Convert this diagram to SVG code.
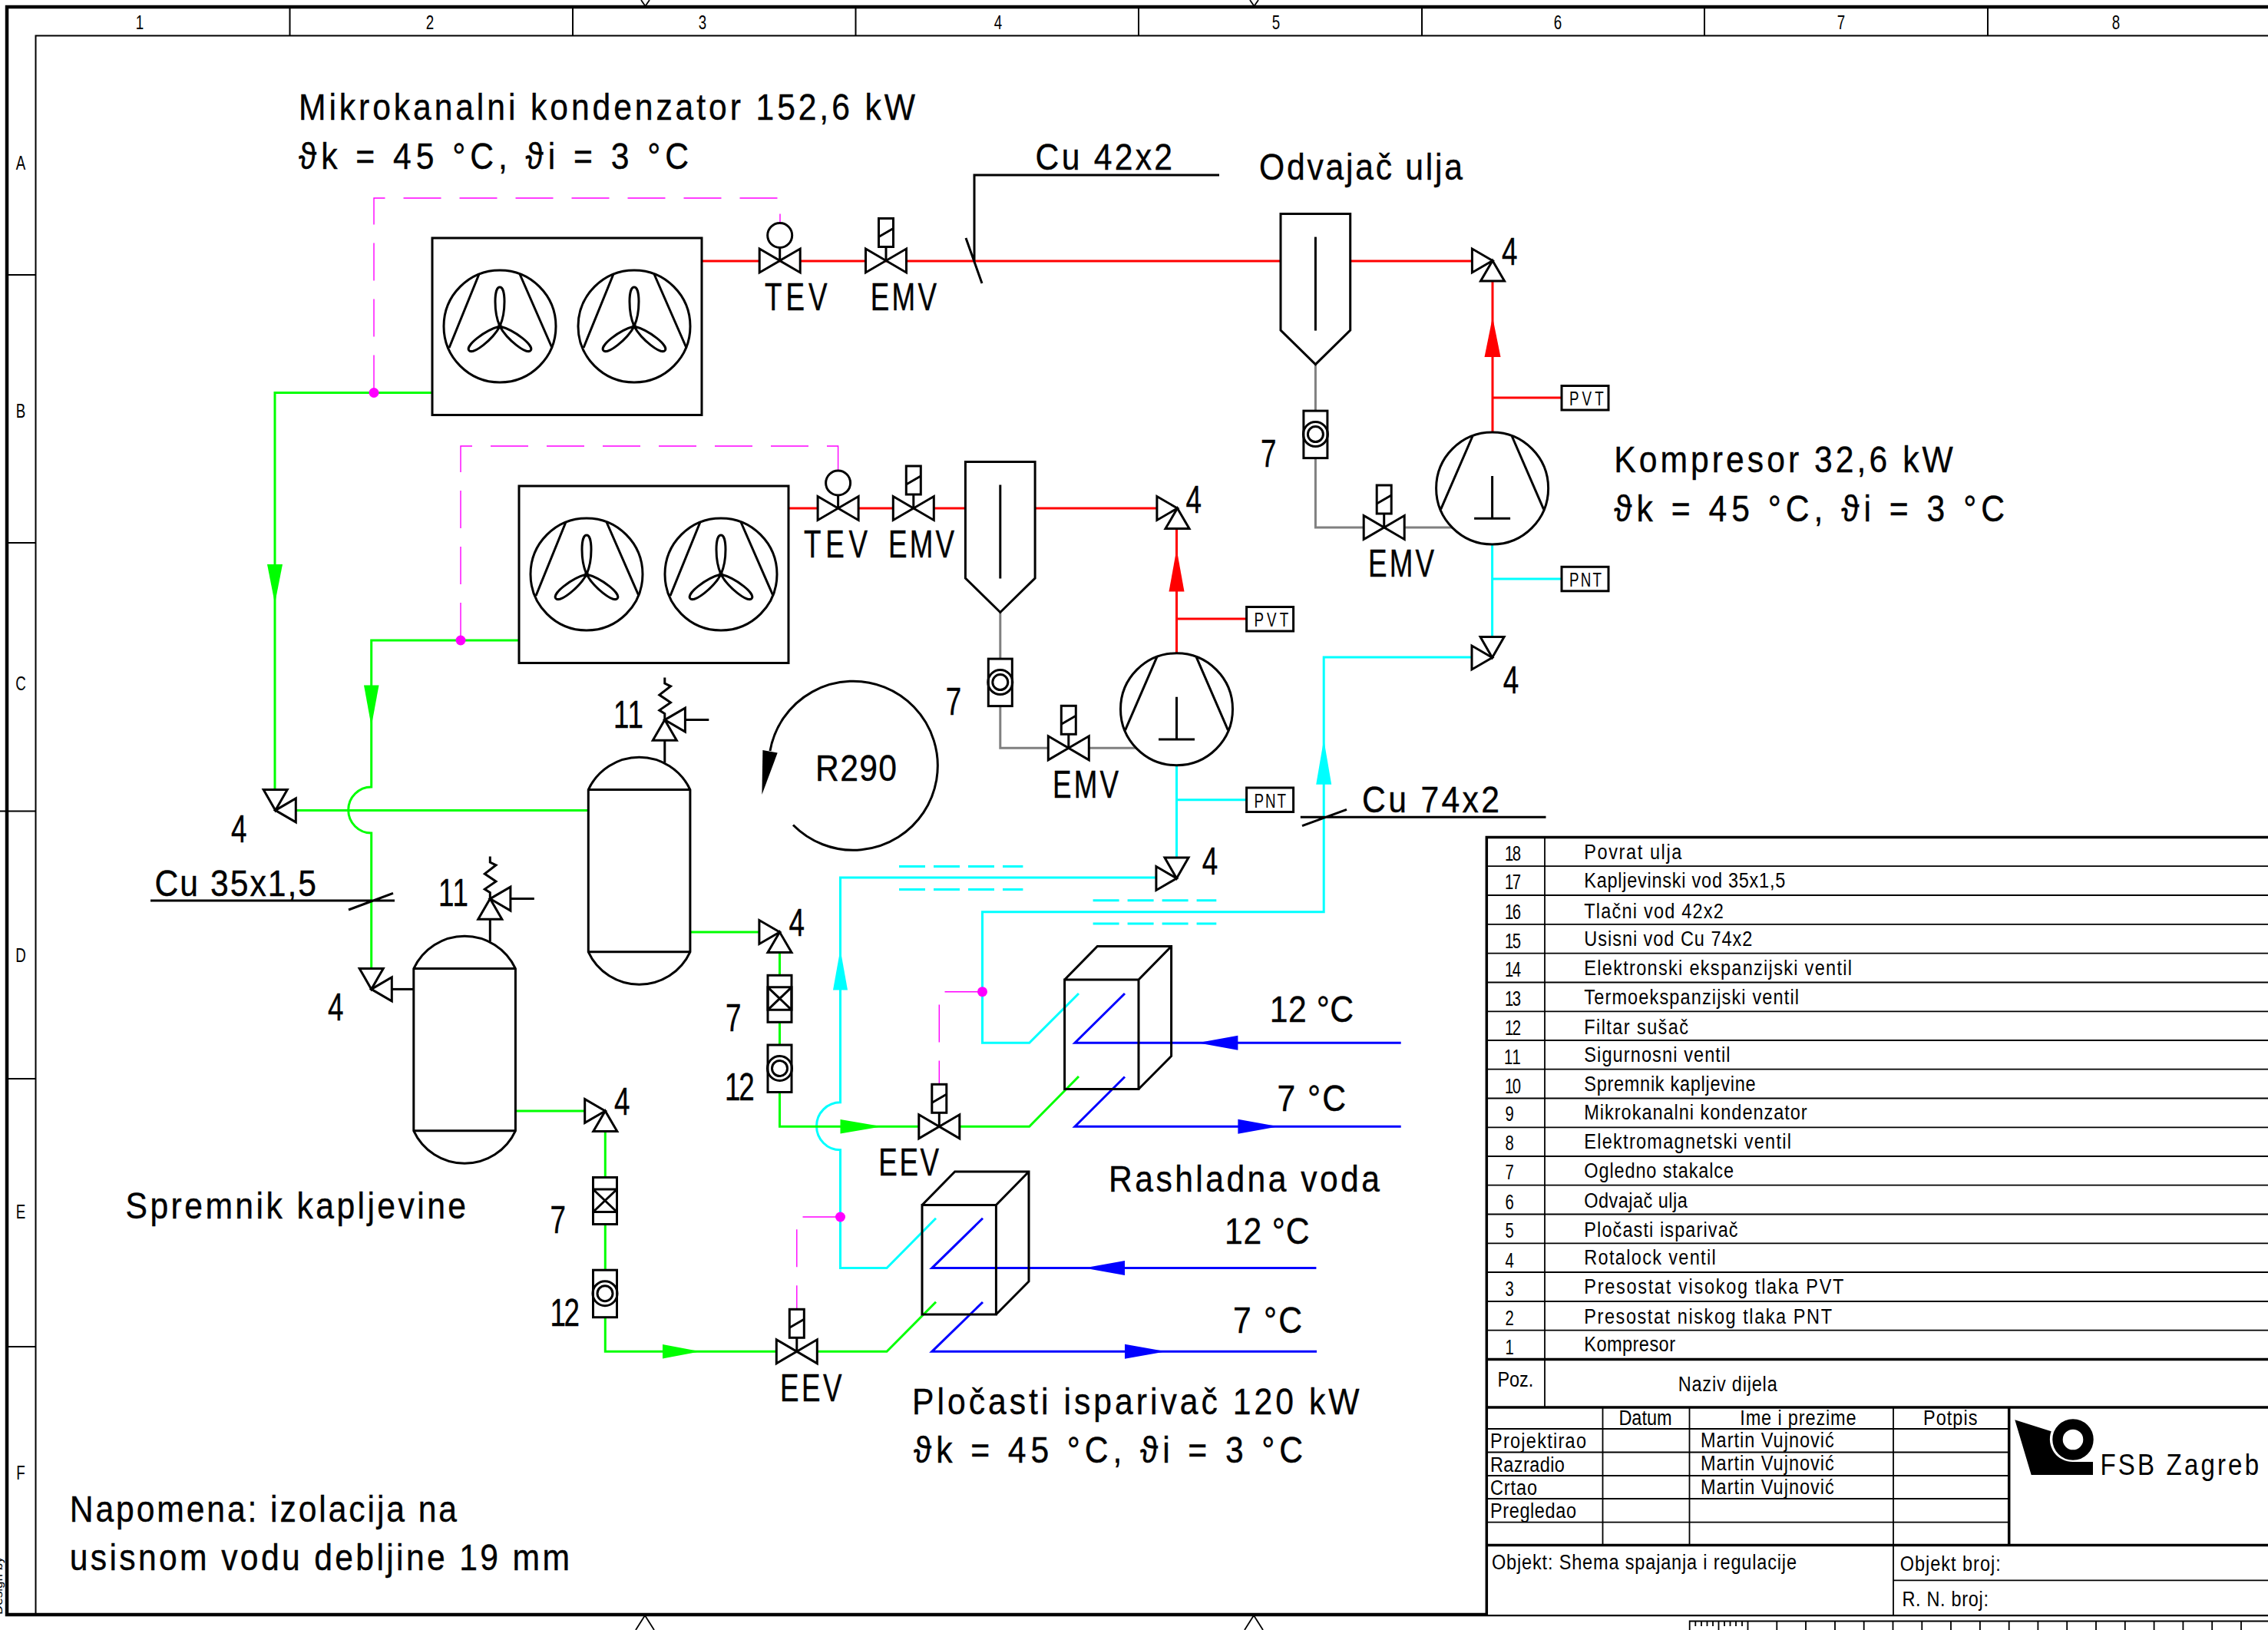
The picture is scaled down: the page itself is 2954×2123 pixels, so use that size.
<svg xmlns="http://www.w3.org/2000/svg" width="2954" height="2123" viewBox="0 0 2954 2123">
<style>
text{font-family:"Liberation Sans","DejaVu Sans",sans-serif;fill:#000}
text.b,text.m,text.p,text.l{transform-box:fill-box;transform-origin:0 50%;transform:scaleX(.87)}
text.n{transform:scaleX(.75)}
text.ctr{transform-origin:50% 50%;text-anchor:middle;transform:scaleX(.75)}
.b{font-size:49px;stroke:#000;stroke-width:.4}.m{font-size:27px}.p{font-size:25px}.l{font-size:38px}
.k{fill:none;stroke:#000;stroke-width:3;stroke-linejoin:miter}
.w{fill:#fff;stroke:#000;stroke-width:3}
.c{fill:none;stroke-width:3;stroke-linejoin:miter}
.red{stroke:#f00}.grn{stroke:#0f0}.cyn{stroke:#0ff}.blu{stroke:#00f}.gry{stroke:#808080}
.blk{stroke:#000}
.pnk{fill:none;stroke:#f0f;stroke-width:1.4;stroke-dasharray:49 24}
.dsh{stroke:#0ff;stroke-width:3;stroke-dasharray:34 11;fill:none}
.fr{fill:none;stroke:#000;stroke-width:2}
.fb{fill:none;stroke:#000;stroke-width:4.5}
.tl{fill:none;stroke:#000;stroke-width:1.8}
.tb{fill:none;stroke:#000;stroke-width:3.5}
.fR{fill:#f00}.fG{fill:#0f0}.fC{fill:#0ff}.fB{fill:#00f}.fM{fill:#f0f}
</style>
<defs>
<polygon id="bow" class="w" points="-26.5,-15.5 26.5,15.5 26.5,-15.5 -26.5,15.5"/>
<g id="emv"><use href="#bow"/><path class="k" d="M0,0V-18"/><rect class="w" x="-9.5" y="-55" width="19" height="37"/><path class="k" d="M-9.5,-31L9.5,-42"/></g>
<g id="tev"><use href="#bow"/><path class="k" d="M0,0V-17"/><circle class="w" cx="0" cy="-33" r="16"/></g>
<polygon id="triL" class="w" points="0,0 -26.6,-15.5 -26.6,15.5"/>
<polygon id="triR" class="w" points="0,0 26.6,-15.5 26.6,15.5"/>
<polygon id="triB" class="w" points="0,0 -15.5,26.6 15.5,26.6"/>
<polygon id="triT" class="w" points="0,0 -15.5,-27 15.5,-27"/>
<g id="rotU"><use href="#triL"/><use href="#triB"/></g>
<g id="rotD"><use href="#triL"/><use href="#triT"/></g>
<g id="rotR"><use href="#triR"/><use href="#triT"/></g>
<g id="cmp"><circle class="w" r="73"/><path class="k" d="M-25.6,-68L-67,27.4M25.6,-68L67,27.4M0,-16V39.3M-23.5,39.3H23.5"/></g>
<path id="leaf" class="k" d="M0,0C-8,-18 -8,-51 0,-51C8,-51 8,-18 0,0Z"/>
<g id="fan"><circle class="k" r="73"/><path class="k" d="M-27,-68L-66,28M26,-68L68,28"/><use href="#leaf"/><use href="#leaf" transform="rotate(128)"/><use href="#leaf" transform="rotate(-128)"/></g>
<g id="cond"><rect class="k" x="0" y="0" width="351" height="230.5"/><use href="#fan" x="88" y="115"/><use href="#fan" x="263" y="115"/></g>
<g id="sep"><path class="w" d="M0,0H90.7V151.5L45.4,196L0,151.5Z"/><path class="k" d="M45.4,30V152"/></g>
<g id="sg"><rect class="w" x="-15.5" y="-30.5" width="31" height="61.5"/><circle class="k" r="16"/><circle class="k" r="10"/></g>
<g id="flt"><rect class="w" x="-15.5" y="-30.5" width="31" height="61"/><path class="k" d="M-15.5,-15H15.5V14.5H-15.5ZM-15.5,-15L15.5,14.5M15.5,-15L-15.5,14.5"/></g>
<g id="tank"><path class="w" d="M0,0A73,73 0 0 1 132.6,0V211.2A73,73 0 0 1 0,211.2Z"/><path class="k" d="M0,0H132.6M0,211.2H132.6M99.5,-35V-64.3"/><use href="#triB" transform="translate(99.5,-91)"/><use href="#triR" transform="translate(99.5,-91)"/><path class="k" d="M126.1,-91H157M99.5,-91V-99L92.5,-103.5L107.2,-113.5L92.5,-123.5L107.2,-134.8L99.5,-138.5V-146"/></g>
<g id="evap"><path class="k" d="M0,0H96.4V142.5H0ZM0,0L42.7,-43.5H139V99.5L96.4,142.5M96.4,0L139,-43.5"/></g>
<rect id="box" class="w" x="0" y="0" width="61" height="31.5"/>
</defs>

<g id="frame">
<path class="fb" d="M2954,9H9V2103H2954"/>
<path class="fr" d="M2954,46.5H46.5V2103M377.5,9V46.5M746,9V46.5M1114.5,9V46.5M1483,9V46.5M1852,9V46.5M2220,9V46.5M2589,9V46.5M9,358H46.5M9,707H46.5M0,1056.5H46.5M9,1405H46.5M9,1754H46.5"/>
<path class="tl" d="M835,0L840.5,8L846,0M1628,0L1633.5,8L1639,0M828,2123L840,2104L852,2123M1621,2123L1633,2104L1645,2123"/>
<path class="tl" d="M2954,2111.5H2200.7V2123M2238.5,2111.5V2123M2276.5,2111.5V2123M2314.3,2111.5V2123M2352,2111.5V2123M2390,2111.5V2123M2427.7,2111.5V2123M2465.5,2111.5V2123M2503.3,2111.5V2123M2541,2111.5V2123M2578.9,2111.5V2123M2616.7,2111.5V2123M2654.4,2111.5V2123M2692.2,2111.5V2123M2730,2111.5V2123M2767.8,2111.5V2123M2805.6,2111.5V2123M2843.4,2111.5V2123M2881.2,2111.5V2123M2919,2111.5V2123M2208.3,2111.5V2118M2216,2111.5V2118M2223.5,2111.5V2118M2231,2111.5V2118M2246,2111.5V2118M2253.5,2111.5V2118M2261,2111.5V2118M2269,2111.5V2118"/>
<text x="182" y="38" class="p ctr">1</text><text x="560" y="38" class="p ctr">2</text><text x="915" y="38" class="p ctr">3</text><text x="1300" y="38" class="p ctr">4</text><text x="1662" y="38" class="p ctr">5</text><text x="2029" y="38" class="p ctr">6</text><text x="2398" y="38" class="p ctr">7</text><text x="2756" y="38" class="p ctr">8</text>
<text x="27" y="221" class="p ctr">A</text><text x="27" y="544" class="p ctr">B</text><text x="27" y="899" class="p ctr">C</text><text x="27" y="1253" class="p ctr">D</text><text x="27" y="1587" class="p ctr">E</text><text x="27" y="1927" class="p ctr">F</text>
<text transform="translate(3,2103) rotate(-90)" style="font-size:17px">Design by</text>
</g>

<g id="connectors">
<path class="c red" d="M914,340H1917M1944,366V563M1944,518H2034"/>
<path class="c red" d="M1027,662H1506M1532.5,689V851M1532.5,806H1624"/>
<polygon class="fR" points="1933.5,465 1944,413 1954.5,465"/>
<polygon class="fR" points="1522.5,770.5 1532.5,715 1542.5,770.5"/>
<path class="c gry" d="M1713.4,474V535M1713.4,596V687H1892M1302.8,797V858M1302.8,919V974.3H1481"/>
<path class="c cyn" d="M1943.6,709V830M1943.6,754H2034M1532.5,997V1118M1532.5,1041.7H1624"/>
<path class="c cyn" d="M1917.7,856H1724.2V1187.8H1279.5V1358.3H1340.7L1405,1294"/>
<path class="c cyn" d="M1506,1143H1094.5V1435.8A31,31 0 0 0 1094.5,1497.8V1651.6H1155L1219,1586.7"/>
<polygon class="fC" points="1714.2,1021.7 1724.2,963.3 1734.2,1021.7"/>
<polygon class="fC" points="1085,1289.4 1094.5,1236.6 1104,1289.4"/>
<path class="dsh" d="M1171,1128.6H1332.4M1171,1158.5H1332.4M1423.6,1172.8H1584.3M1423.6,1203H1584.3"/>
<path class="c grn" d="M563,511.5H358V1030M676,834H483.7V1025A30,30 0 0 0 483.7,1085V1262M385,1055.4H766"/>
<polygon class="fG" points="348,735 358,786 368,735"/>
<polygon class="fG" points="474,892.4 483.7,946 493.5,892.4"/>
<path class="c grn" d="M899,1214H989M1015.5,1240V1271M1015.5,1331V1361M1015.5,1421V1467.3H1223M1250,1467.3H1340.7L1405,1402"/>
<polygon class="fG" points="1094.5,1458 1148.7,1467.3 1094.5,1476.6"/>
<path class="c grn" d="M671.4,1447H762M788.3,1473V1533M788.3,1595V1654M788.3,1716V1760.3H1011M1064.5,1760.3H1155L1219,1695.8"/>
<polygon class="fG" points="863,1751 912,1760.3 863,1769.6"/>
<path class="c blk" d="M510.7,1288.4H539"/>
<path class="c blu" d="M1824.7,1358.3H1400L1465,1294M1824.7,1467.3H1400L1465,1402.5M1714.4,1651.6H1213.8L1280,1586.7M1715,1760.3H1213.8L1280,1696"/>
<polygon class="fB" points="1560,1358.3 1612.4,1348.8 1612.4,1367.8"/>
<polygon class="fB" points="1612.4,1457.8 1665,1467.3 1612.4,1476.8"/>
<polygon class="fB" points="1412,1651.6 1465,1642 1465,1661"/>
<polygon class="fB" points="1465,1750.8 1518.6,1760.3 1465,1769.8"/>
<path class="pnk" d="M487,511.5V258H1016V290"/>
<path class="pnk" d="M600,834V581H1091.6V613"/>
<path class="pnk" d="M1279.5,1291.7H1223.3V1413"/>
<path class="pnk" d="M1094.5,1585H1037.8V1706"/>
<circle class="fM" cx="487" cy="511.5" r="6.5"/><circle class="fM" cx="600" cy="834" r="6.5"/><circle class="fM" cx="1279.5" cy="1291.7" r="6.5"/><circle class="fM" cx="1094.5" cy="1585" r="6.5"/>
<path class="k" d="M1588,228H1269V340M1258,310L1279,369"/>
<path class="k" d="M196,1173H514M454,1185L512,1163.4"/>
<path class="k" d="M2013.5,1064.3H1693.8M1696,1075.7L1754,1054.3"/>
</g>

<g id="cond-1"><use href="#cond" x="563" y="310"/></g>
<g id="cond-2"><use href="#cond" x="676" y="633"/></g>
<g id="tev-1"><use href="#tev" x="1015.7" y="339.5"/><text class="b n" x="996" y="403.6" textLength="108.7">TEV</text></g>
<g id="emv-1"><use href="#emv" x="1154" y="339.5"/><text class="b n" x="1133.7" y="403.6" textLength="115">EMV</text></g>
<g id="tev-2"><use href="#tev" x="1091.6" y="662"/><text class="b n" x="1047" y="726" textLength="110.7">TEV</text></g>
<g id="emv-2"><use href="#emv" x="1189.8" y="662"/><text class="b n" x="1157" y="726" textLength="114.7">EMV</text></g>
<g id="sep-1"><use href="#sep" x="1668" y="278.6"/></g>
<g id="sep-2"><use href="#sep" x="1257.4" y="601.5"/></g>
<g id="sg-1"><use href="#sg" x="1713.4" y="565.6"/></g>
<g id="sg-2"><use href="#sg" x="1302.8" y="888.6"/></g>
<g id="emv-3"><use href="#emv" x="1802.7" y="687"/><text class="b n" x="1782" y="751" textLength="114.7">EMV</text></g>
<g id="emv-4"><use href="#emv" x="1391.8" y="974.3"/><text class="b n" x="1371" y="1039" textLength="114.7">EMV</text></g>
<g id="cmp-1"><use href="#cmp" x="1943.6" y="636"/></g>
<g id="cmp-2"><use href="#cmp" x="1532.5" y="923.7"/></g>
<g id="pvt-1"><use href="#box" x="2034" y="502.5"/><text class="p n" x="2044" y="528" textLength="59.6">PVT</text></g>
<g id="pvt-2"><use href="#box" x="1623.6" y="790.5"/><text class="p n" x="1633.5" y="816" textLength="59.6">PVT</text></g>
<g id="pnt-1"><use href="#box" x="2034" y="738.3"/><text class="p n" x="2044" y="763.8" textLength="56">PNT</text></g>
<g id="pnt-2"><use href="#box" x="1623.6" y="1026"/><text class="p n" x="1633.5" y="1051.7" textLength="55.3">PNT</text></g>
<g id="rot-1"><use href="#rotU" x="1944" y="339.5"/></g>
<g id="rot-2"><use href="#rotU" x="1533.5" y="662"/></g>
<g id="rot-3"><use href="#rotD" x="1943.6" y="856.5"/></g>
<g id="rot-4"><use href="#rotD" x="1532.5" y="1144"/></g>
<g id="rot-5"><use href="#rotR" x="358.7" y="1055.4"/></g>
<g id="rot-6"><use href="#rotR" x="483.7" y="1288.4"/></g>
<g id="rot-7"><use href="#rotU" x="1015.5" y="1214"/></g>
<g id="rot-8"><use href="#rotU" x="788.3" y="1447"/></g>
<g id="tank-1"><use href="#tank" x="538.8" y="1261.6"/></g>
<g id="tank-2"><use href="#tank" x="766.3" y="1028.6"/></g>
<g id="flt-1"><use href="#flt" x="1015.5" y="1300.8"/></g>
<g id="sg-3"><use href="#sg" x="1015.5" y="1391.5"/></g>
<g id="flt-2"><use href="#flt" x="788" y="1564"/></g>
<g id="sg-4"><use href="#sg" x="788" y="1684.7"/></g>
<g id="eev-1"><use href="#emv" x="1223.3" y="1467.3"/><text class="b n" x="1144.3" y="1531" textLength="105">EEV</text></g>
<g id="eev-2"><use href="#emv" x="1037.8" y="1760.3"/><text class="b n" x="1016" y="1825" textLength="107.2">EEV</text></g>
<g id="evap-1"><use href="#evap" x="1386.6" y="1276"/></g>
<g id="evap-2"><use href="#evap" x="1201" y="1569.5"/></g>
<g id="cycle"><path class="k" d="M1003,978A110,110 0 1 1 1033,1074.5"/><polygon points="993.4,977 1012.7,980.4 992.4,1035"/><text class="b" x="1062" y="1017" textLength="121.8">R290</text></g>

<g id="labels">
<text class="b" x="389" y="156" textLength="923">Mikrokanalni kondenzator 152,6 kW</text>
<text class="b" x="389" y="219.6" textLength="583.9">ϑk = 45 °C, ϑi = 3 °C</text>
<text class="b" x="1348.6" y="221.4" textLength="205">Cu 42x2</text>
<text class="b" x="1640" y="234" textLength="304.6">Odvajač ulja</text>
<text class="b" x="2102.3" y="615.5" textLength="507.4">Kompresor 32,6 kW</text>
<text class="b" x="2102.3" y="678.8" textLength="584.7">ϑk = 45 °C, ϑi = 3 °C</text>
<text class="b n" x="1955.9" y="344.7">4</text>
<text class="b n" x="1544.4" y="668">4</text>
<text class="b n" x="1957.8" y="903">4</text>
<text class="b n" x="1565.8" y="1139">4</text>
<text class="b n" x="301" y="1097">4</text>
<text class="b n" x="427" y="1329">4</text>
<text class="b n" x="800" y="1451.8">4</text>
<text class="b n" x="1027.5" y="1219">4</text>
<text class="b n" x="1642" y="607.6">7</text>
<text class="b n" x="1231.7" y="931">7</text>
<text class="b n" x="945" y="1343">7</text>
<text class="b n" x="716.4" y="1606.5">7</text>
<text class="b n" x="944" y="1433" textLength="51.5">12</text>
<text class="b n" x="716.4" y="1727" textLength="51.5">12</text>
<text class="b n" x="799" y="948" textLength="52">11</text>
<text class="b n" x="571" y="1180.4" textLength="52">11</text>
<text class="b" x="201.5" y="1167" textLength="242">Cu 35x1,5</text>
<text class="b" x="1774" y="1057.7" textLength="205.7">Cu 74x2</text>
<text class="b" x="1653.8" y="1331" textLength="125.5">12 °C</text>
<text class="b" x="1663.4" y="1447" textLength="103">7 °C</text>
<text class="b" x="1444" y="1552" textLength="405.7">Rashladna voda</text>
<text class="b" x="1595" y="1620" textLength="127">12 °C</text>
<text class="b" x="1606" y="1736" textLength="103.4">7 °C</text>
<text class="b" x="1188" y="1842" textLength="669.5">Pločasti isparivač 120 kW</text>
<text class="b" x="1190" y="1905" textLength="582.8">ϑk = 45 °C, ϑi = 3 °C</text>
<text class="b" x="163.6" y="1586.6" textLength="509.7">Spremnik kapljevine</text>
<text class="b" x="90.7" y="1982" textLength="579.7">Napomena: izolacija na</text>
<text class="b" x="90.7" y="2045" textLength="748.6">usisnom vodu debljine 19 mm</text>
</g>

<g id="parts-table">
<rect x="1936.3" y="1090.6" width="1017.7" height="1012.4" fill="#fff"/>
<path class="tb" d="M2954,1090.6H1936.3V2103M1936.3,1770.4H2954M1936.3,1833H2954M1936.3,2012.6H2954M2616.7,1833V2012.6"/>
<path class="tl" d="M2012,1090.6V1833M1936.3,1128.2H2954M1936.3,1166H2954M1936.3,1203.8H2954M1936.3,1241.6H2954M1936.3,1279.5H2954M1936.3,1317.4H2954M1936.3,1355H2954M1936.3,1392.6H2954M1936.3,1430.5H2954M1936.3,1468.3H2954M1936.3,1506H2954M1936.3,1543.6H2954M1936.3,1581.5H2954M1936.3,1619.3H2954M1936.3,1657H2954M1936.3,1695H2954M1936.3,1732.6H2954"/>
<path class="tl" d="M2087.5,1833V2012.6M2200.5,1833V2012.6M2466,1833V2103M1936.3,1861H2616M1936.3,1891.5H2616M1936.3,1922H2616M1936.3,1952H2616M1936.3,1982.6H2616M2466,2058.3H2954"/>
<text class="m n" x="1960" y="1121" textLength="28">18</text><text class="m" x="2063.3" y="1118.6" textLength="146">Povrat ulja</text>
<text class="m n" x="1960" y="1158.5" textLength="28">17</text><text class="m" x="2063.3" y="1156.5" textLength="301.1">Kapljevinski vod 35x1,5</text>
<text class="m n" x="1960" y="1197" textLength="28">16</text><text class="m" x="2063.3" y="1195.7" textLength="208.6">Tlačni vod 42x2</text>
<text class="m n" x="1960" y="1235" textLength="28">15</text><text class="m" x="2063.3" y="1231.7" textLength="251.7">Usisni vod Cu 74x2</text>
<text class="m n" x="1960" y="1272" textLength="28">14</text><text class="m" x="2063.3" y="1270" textLength="400.8">Elektronski ekspanzijski ventil</text>
<text class="m n" x="1960" y="1310" textLength="28">13</text><text class="m" x="2063.3" y="1308" textLength="321.5">Termoekspanzijski ventil</text>
<text class="m n" x="1960" y="1348" textLength="28">12</text><text class="m" x="2063.3" y="1346.7" textLength="156">Filtar sušač</text>
<text class="m n" x="1959" y="1386" textLength="29">11</text><text class="m" x="2063.3" y="1382.6" textLength="218.7">Sigurnosni ventil</text>
<text class="m n" x="1960" y="1424" textLength="28">10</text><text class="m" x="2063.3" y="1421" textLength="256.6">Spremnik kapljevine</text>
<text class="m n" x="1960.5" y="1460">9</text><text class="m" x="2063.3" y="1458.5" textLength="333.8">Mikrokanalni kondenzator</text>
<text class="m n" x="1960.5" y="1498.4">8</text><text class="m" x="2063.3" y="1496.4" textLength="310">Elektromagnetski ventil</text>
<text class="m n" x="1960.5" y="1536.3">7</text><text class="m" x="2063.3" y="1533.6" textLength="223.8">Ogledno stakalce</text>
<text class="m n" x="1960.5" y="1575">6</text><text class="m" x="2063.3" y="1573.5" textLength="154.6">Odvajač ulja</text>
<text class="m n" x="1960.5" y="1612">5</text><text class="m" x="2063.3" y="1611.5" textLength="230.2">Pločasti isparivač</text>
<text class="m n" x="1960.5" y="1650.7">4</text><text class="m" x="2063.3" y="1647.4" textLength="197">Rotalock ventil</text>
<text class="m n" x="1960.5" y="1688">3</text><text class="m" x="2063.3" y="1685.3" textLength="388.6">Presostat visokog tlaka PVT</text>
<text class="m n" x="1960.5" y="1726">2</text><text class="m" x="2063.3" y="1724" textLength="370.9">Presostat niskog tlaka PNT</text>
<text class="m n" x="1960.5" y="1764.4">1</text><text class="m" x="2063.3" y="1760.5" textLength="136.4">Kompresor</text>
<text class="m" x="1950.4" y="1806.4" textLength="54">Poz.</text><text class="m" x="2185.7" y="1811.7" textLength="148.3">Naziv dijela</text>
<text class="m" x="2108.4" y="1856" textLength="79.5">Datum</text><text class="m" x="2266.3" y="1856" textLength="173.9">Ime i prezime</text><text class="m" x="2505" y="1856" textLength="81">Potpis</text>
<text class="m" x="1941" y="1886" textLength="143.7">Projektirao</text><text class="m" x="1941" y="1916.8" textLength="111.3">Razradio</text><text class="m" x="1941" y="1946.7" textLength="70.1">Crtao</text><text class="m" x="1941" y="1976.6" textLength="128.7">Pregledao</text>
<text class="m" x="2215" y="1885.5" textLength="199.7">Martin Vujnović</text><text class="m" x="2215" y="1915.4" textLength="199.7">Martin Vujnović</text><text class="m" x="2215" y="1946" textLength="199.7">Martin Vujnović</text>
<text class="m" x="1943" y="2044.5" textLength="456.3">Objekt: Shema spajanja i regulacije</text>
<text class="m" x="2474.7" y="2046.5" textLength="150.6">Objekt broj:</text>
<text class="m" x="2477.4" y="2091.7" textLength="129.4">R. N. broj:</text>
<g id="logo"><path d="M2624.3,1849.3L2671.7,1864.3A29.5,29.5 0 0 0 2700,1904L2726,1904V1921H2645.7Z"/><circle cx="2700" cy="1875" r="20" fill="none" stroke="#000" stroke-width="13.4"/></g>
<text class="l" x="2735.5" y="1921" textLength="237.4">FSB Zagreb</text>
</g>
</svg>
